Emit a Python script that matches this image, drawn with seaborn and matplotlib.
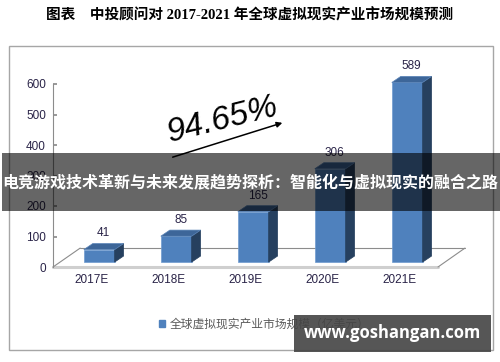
import matplotlib
matplotlib.use('Agg')
import matplotlib.pyplot as plt
import seaborn as sns
from matplotlib.patches import Rectangle, Polygon, Patch, FancyArrowPatch
from matplotlib.transforms import ScaledTranslation

sns.set_theme(style='white')
plt.rcParams['font.family'] = ['Liberation Sans', 'Noto Sans CJK SC', 'DejaVu Sans']

years = ['2017E', '2018E', '2019E', '2020E', '2021E']
values = [41, 85, 165, 306, 589]
y_ticks = [0, 100, 200, 300, 400, 500, 600]
title = '图表　中投顾问对 2017-2021 年全球虚拟现实产业市场规模预测'
growth = '94.65%'
legend_label = '全球虚拟现实产业市场规模（亿美元）'
banner = '电竞游戏技术革新与未来发展趋势探析：智能化与虚拟现实的融合之路'
site = 'www.goshangan.com'

W, H = 500, 362
fig = plt.figure(figsize=(W / 100, H / 100), dpi=100)


def fx(px):
    return px / W


def fy(py):
    return 1 - py / H


# outer frame
fig.patches.append(Rectangle((fx(9), fy(350)), fx(484), 304 / H, transform=fig.transFigure,
                             fill=False, edgecolor='#a6a6a6', lw=1))

# axes: x=0 at px 99, 77 px per category ; y=0 at px 267, 0.305 px per unit
xl, xr = -0.6, 4.75
yt = 650
ax = fig.add_axes([fx(53), fy(267), (xr - xl) * 77 / W, yt * 0.305 / H])
ax.set_facecolor('none')

front = '#4f81bd'
top_c = '#3d6699'
side_c = '#26405f'
lift = 16
ddx, ddy = 0.117, 20

sns.barplot(x=years, y=values, color=front, width=0.4, saturation=1, ax=ax,
            edgecolor='#6f9bd0', linewidth=0.5, zorder=3)
ax.set_xlim(xl, xr)
ax.set_ylim(0, yt)

# 3D floor
fl_back = 62
ax.plot([xl, 4.40], [0, 0], color='#cfcfcf', lw=2.2, clip_on=False, zorder=1)
ax.plot([-0.247, 4.75], [fl_back, fl_back], color='#8c8c8c', lw=0.8, clip_on=False, zorder=1)
ax.plot([xl, -0.247], [0, fl_back], color='#8c8c8c', lw=0.8, clip_on=False, zorder=1)
ax.plot([4.40, 4.75], [0, fl_back], color='#8c8c8c', lw=0.8, clip_on=False, zorder=1)

lab_col = '#2a2448'
for p, v in zip(ax.patches, values):
    p.set_y(lift)
    x0, w, h = p.get_x(), p.get_width(), p.get_height()
    y1 = lift + h
    ax.add_patch(Polygon([(x0 + w, lift), (x0 + w + ddx, lift + ddy), (x0 + w + ddx, y1 + ddy), (x0 + w, y1)],
                         closed=True, facecolor=side_c, edgecolor=side_c, lw=0.5, zorder=3))
    ax.add_patch(Polygon([(x0, y1), (x0 + ddx, y1 + ddy), (x0 + w + ddx, y1 + ddy), (x0 + w, y1)],
                         closed=True, facecolor=top_c, edgecolor='#5a84b8', lw=0.5, zorder=3))
    ax.annotate(str(v), (x0 + w / 2 + ddx / 2, y1 + ddy), xytext=(0, 3), textcoords='offset points',
                ha='center', va='bottom', fontsize=8.5, color=lab_col)

for s in ['top', 'right', 'bottom']:
    ax.spines[s].set_visible(False)
ax.spines['left'].set_color('#8c8c8c')
ax.spines['left'].set_linewidth(0.8)
ax.spines['left'].set_bounds(0, 600)
ax.set_yticks(y_ticks)
ax.tick_params(axis='y', direction='in', length=3, color='#8c8c8c', labelsize=8.5,
               labelcolor=lab_col, pad=5, left=True)
ax.tick_params(axis='x', length=0, labelsize=8.5, labelcolor=lab_col, pad=5)
for lbl in ax.get_xticklabels():
    lbl.set_transform(lbl.get_transform() + ScaledTranslation(-0.08, 0, fig.dpi_scale_trans))
ax.set_xlabel('')
ax.set_ylabel('')

# growth annotation
fig.text(fx(223), fy(120), growth, ha='center', va='center', rotation=14, fontsize=24,
         style='italic', color='black')
fig.add_artist(FancyArrowPatch((fx(170), fy(158)), (fx(285), fy(122)),
                               transform=fig.transFigure, arrowstyle='-|>',
                               mutation_scale=8, color='black', lw=1.1))

# title
fig.text(0.5, fy(15), title, ha='center', va='center', fontsize=10.5, weight='bold',
         family=['Liberation Serif', 'Noto Sans CJK SC'], color='black')

# legend
fig.legend(handles=[Patch(color=front, label=legend_label)], loc='center',
           bbox_to_anchor=(fx(264), fy(324)), frameon=False, handlelength=0.55, handleheight=0.55,
           handletextpad=0.4, prop={'family': ['Noto Sans CJK SC'], 'size': 8.5}, labelcolor='#595959')

# banner overlay
fig.patches.append(Rectangle((fx(2), fy(211)), fx(498), 58 / H, transform=fig.transFigure,
                             facecolor='black', alpha=0.6, edgecolor='none', zorder=10))
fig.text(0.5, fy(182), banner, ha='center', va='center', fontsize=11.5, weight='bold',
         color='white', family=['Noto Sans CJK SC'], zorder=11)

# site watermark
fig.patches.append(Rectangle((fx(294), fy(352)), fx(197), 37 / H, transform=fig.transFigure,
                             facecolor='#444444', alpha=0.9, edgecolor='none', zorder=10))
fig.text(fx(392), fy(333), site, ha='center', va='center', fontsize=12, weight='bold',
         color='white', family=['Open Sans', 'DejaVu Sans'], zorder=11)

fig.savefig('out.png', dpi=100)
